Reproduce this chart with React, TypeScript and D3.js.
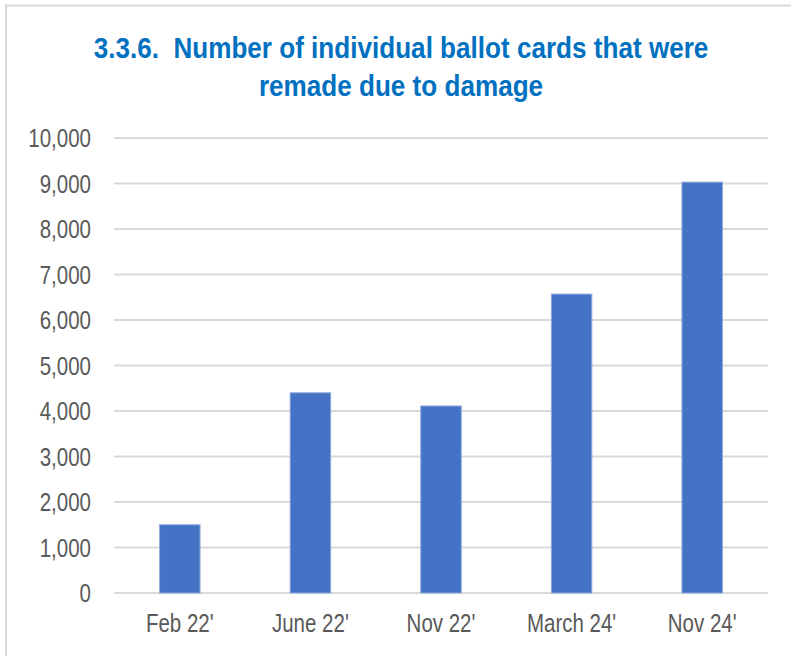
import React from 'react'
import { scaleBand, scaleLinear, range } from 'd3'

const categories = ["Feb 22'", "June 22'", "Nov 22'", "March 24'", "Nov 24'"]
const values = [1500, 4400, 4110, 6570, 9030]
const yTicks = range(0, 10001, 1000)
const titleLines = ['3.3.6.  Number of individual ballot cards that were', 'remade due to damage']

const W = 791
const H = 656
const plot = { left: 114.5, right: 767.5, top: 138, bottom: 593 }
const font = "'Liberation Sans', Arial, sans-serif"
const squeeze = 0.82
const titleSqueeze = 0.9

const fmt = (v: number) => v.toLocaleString('en-US')

export default function App() {
  const x = scaleBand<string>()
    .domain(categories)
    .range([plot.left, plot.right])
    .paddingInner(0.69)
    .paddingOuter(0.345)

  const y = scaleLinear()
    .domain([0, 10000])
    .range([plot.bottom, plot.top])

  return (
    <svg
      width={W}
      height={H}
      style={{ position: 'absolute', left: 0, top: 0, display: 'block', background: '#fff' }}
    >
      {/* frame of the chart box, only top and left are visible */}
      <rect x={6} y={5.5} width={W + 20} height={H + 20} fill='#fff' stroke='#d9d9d9' strokeWidth={2} />

      {titleLines.map((line, i) => (
        <text
          key={i}
          transform={`translate(401, ${58 + i * 38}) scale(${titleSqueeze}, 1)`}
          textAnchor='middle'
          fontFamily={font}
          fontWeight='bold'
          fontSize={29}
          fill='#0070C0'
          style={{ whiteSpace: 'pre' }}
        >
          {line}
        </text>
      ))}

      <g>
        {yTicks.map(t => (
          <g key={t}>
            <line x1={plot.left - 0.5} x2={plot.right + 0.5} y1={y(t)} y2={y(t)} stroke='#d9d9d9' strokeWidth={2} />
            <text
              transform={`translate(91, ${y(t) + 9}) scale(${squeeze}, 1)`}
              textAnchor='end'
              fontFamily={font}
              fontSize={25}
              fill='#595959'
            >
              {fmt(t)}
            </text>
          </g>
        ))}
      </g>

      <g>
        {categories.map((c, i) => (
          <rect
            key={c}
            x={x(c)}
            y={y(values[i])}
            width={x.bandwidth()}
            height={y(0) - y(values[i])}
            fill='#4472C4'
            stroke='#8faadc'
            strokeWidth={1}
          />
        ))}
      </g>

      <g>
        {categories.map(c => (
          <text
            key={c}
            transform={`translate(${(x(c) ?? 0) + x.bandwidth() / 2}, 632) scale(${squeeze}, 1)`}
            textAnchor='middle'
            fontFamily={font}
            fontSize={25}
            fill='#595959'
          >
            {c}
          </text>
        ))}
      </g>
    </svg>
  )
}
